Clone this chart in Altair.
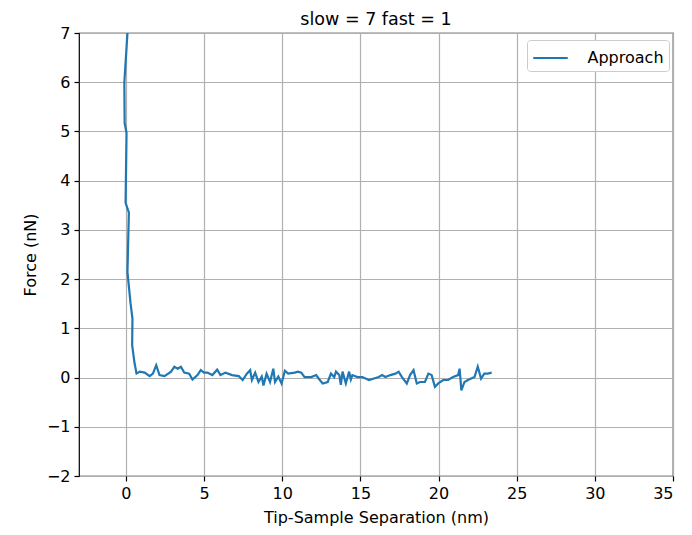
import altair as alt
import pandas as pd

# Approach curve: tip-sample separation (nm) and force (nN), in path order
separation = [
    0.10, -0.10, -0.08, 0.04, -0.02, 0.19, 0.10, 0.30, 0.42, 0.40, 0.55, 0.68,
    0.89, 1.20, 1.52, 1.73, 1.94, 2.15, 2.47, 2.89, 3.10, 3.31, 3.52, 3.73,
    4.05, 4.26, 4.58, 4.79, 5.00, 5.21, 5.53, 5.84, 6.05, 6.37, 6.79, 7.22,
    7.47, 7.74, 7.95, 8.06, 8.27, 8.48, 8.69, 8.80, 9.00, 9.22, 9.43, 9.54,
    9.75, 9.96, 10.17, 10.38, 10.80, 11.01, 11.22, 11.43, 11.86, 12.17, 12.38,
    12.59, 12.91, 13.12, 13.33, 13.44, 13.65, 13.75, 13.86, 14.07, 14.28,
    14.39, 14.49, 14.81, 15.13, 15.55, 15.87, 16.18, 16.39, 16.60, 16.92,
    17.24, 17.45, 17.66, 17.97, 18.18, 18.40, 18.61, 18.82, 19.13, 19.35,
    19.56, 19.77, 19.98, 20.30, 20.61, 20.93, 21.25, 21.35, 21.46, 21.66,
    21.88, 22.09, 22.30, 22.51, 22.72, 22.93, 23.15, 23.40,
]
force = [
    7.00, 6.00, 5.17, 4.97, 3.55, 3.35, 2.14, 1.50, 1.20, 0.66, 0.30, 0.08,
    0.12, 0.10, 0.03, 0.08, 0.25, 0.05, 0.03, 0.12, 0.22, 0.18, 0.22, 0.10,
    0.08, -0.04, 0.05, 0.15, 0.10, 0.10, 0.05, 0.16, 0.05, 0.10, 0.05, 0.03,
    -0.05, 0.08, 0.15, -0.05, 0.10, -0.09, 0.02, -0.16, 0.08, -0.09, 0.18,
    -0.09, 0.02, -0.12, 0.14, 0.08, 0.10, 0.12, 0.10, 0.01, 0.01, 0.05,
    -0.04, -0.12, -0.09, 0.08, 0.01, 0.12, 0.05, -0.15, 0.12, -0.12, 0.12,
    -0.04, 0.05, 0.01, 0.01, -0.05, -0.02, 0.01, 0.05, 0.01, 0.05, 0.08,
    0.12, 0.01, -0.12, 0.05, 0.15, -0.12, -0.09, -0.09, 0.08, 0.05, -0.19,
    -0.12, -0.05, -0.05, 0.01, 0.05, 0.18, -0.26, -0.09, -0.05, -0.02, 0.01,
    0.22, -0.02, 0.08, 0.08, 0.10,
]
series_name = "Approach"
x_ticks = [0, 5, 10, 15, 20, 25, 30, 35]
y_ticks = [-2, -1, 0, 1, 2, 3, 4, 5, 6, 7]

df = pd.DataFrame({
    "sep": separation,
    "force": force,
    "order": list(range(len(separation))),
    "series": [series_name] * len(separation),
})

font = "DejaVu Sans"

chart = alt.Chart(df).mark_line(clip=True, strokeWidth=2.2).encode(
    x=alt.X("sep:Q",
            scale=alt.Scale(domain=[-3, 35], nice=False, zero=False),
            axis=alt.Axis(values=x_ticks, title="Tip-Sample Separation (nm)",
                          labelExpr="replace(datum.label, '-', '−')")),
    y=alt.Y("force:Q",
            scale=alt.Scale(domain=[-2, 7], nice=False, zero=False),
            axis=alt.Axis(values=y_ticks, title="Force (nN)",
                          labelExpr="replace(datum.label, '-', '−')")),
    order="order:Q",
    color=alt.Color("series:N",
                    scale=alt.Scale(range=["#1f77b4"]),
                    legend=alt.Legend(title=None, orient="none",
                                      legendX=448, legendY=7,
                                      symbolType="M-1.5,0H1.5", symbolSize=529,
                                      symbolStrokeWidth=2.2, symbolOffset=5.5,
                                      labelFont=font, labelFontSize=16,
                                      labelColor="#000000", labelOffset=24,
                                      strokeColor="#cccccc", fillColor="white",
                                      cornerRadius=3, padding=5)),
).properties(
    width=594, height=443,
    title=alt.TitleParams("slow = 7 fast = 1", font=font, fontSize=17.5,
                          fontWeight="normal", color="#000000", offset=6,
                          dy=9),
    padding={"left": 71, "top": 25, "right": 11, "bottom": 55},
    autosize=alt.AutoSizeParams(type="none"),
).configure_view(
    stroke="#000000", strokeWidth=1.2,
).configure_axis(
    grid=True, gridColor="#b0b0b0", gridWidth=1.2,
    domain=False,
    tickColor="#000000", tickSize=5, tickWidth=1.2,
    labelFont=font, labelFontSize=16, labelColor="#000000", labelPadding=4,
    titleFont=font, titleFontSize=16, titleFontWeight="normal",
    titleColor="#000000",
).configure_axisY(
    titlePadding=8,
).configure_axisX(
    titlePadding=8,
)

chart.save("out.html", embed_options={"renderer": "svg", "actions": False})
